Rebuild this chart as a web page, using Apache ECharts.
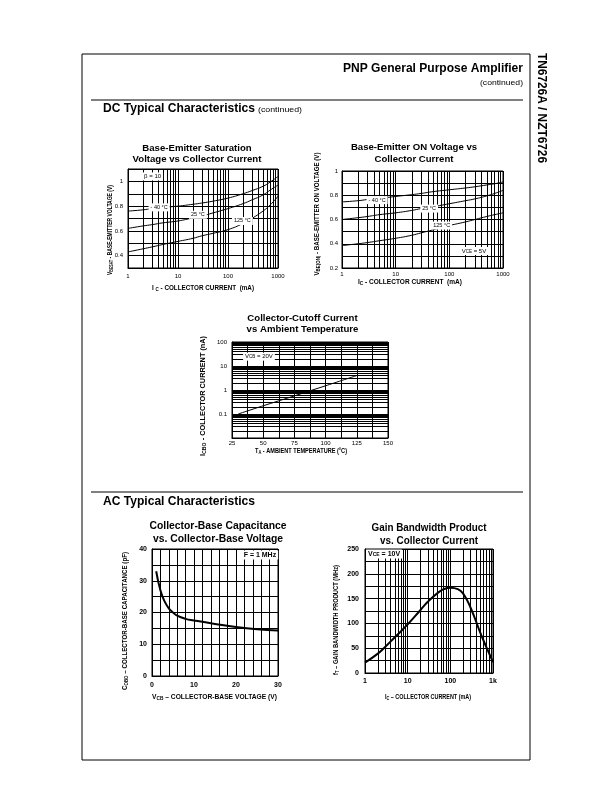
<!DOCTYPE html>
<html>
<head>
<meta charset="utf-8">
<title>TN6726A / NZT6726</title>
<script src="https://cdn.jsdelivr.net/npm/echarts@6.0.0/dist/echarts.min.js"></script>
<style>
html,body{margin:0;padding:0;background:#fff;}
#chart{width:612px;height:792px;}
</style>
</head>
<body>
<div id="chart"></div>
<script>
// ---------------- data ----------------
// Base-Emitter Saturation Voltage vs Collector Current (beta = 10)
const satIc = [1, 2, 3, 5, 10, 20, 30, 50, 100, 200, 300, 500, 700, 1000];
const satVbeM40 = [0.76, 0.77, 0.78, 0.79, 0.80, 0.815, 0.825, 0.84, 0.865, 0.90, 0.925, 0.96, 0.995, 1.04];
const satVbe25 = [0.62, 0.64, 0.65, 0.665, 0.68, 0.705, 0.72, 0.745, 0.78, 0.82, 0.85, 0.89, 0.93, 0.97];
const satVbe125 = [0.43, 0.455, 0.47, 0.49, 0.515, 0.54, 0.56, 0.58, 0.61, 0.66, 0.70, 0.76, 0.81, 0.88];
// Base-Emitter ON Voltage vs Collector Current (VCE = 5V)
const onIc = [1, 2, 3, 5, 10, 20, 30, 50, 100, 200, 300, 500, 700, 1000];
const onVbeM40 = [0.745, 0.755, 0.765, 0.775, 0.79, 0.805, 0.815, 0.83, 0.845, 0.86, 0.87, 0.885, 0.895, 0.91];
const onVbe25 = [0.60, 0.615, 0.625, 0.64, 0.655, 0.675, 0.69, 0.705, 0.73, 0.755, 0.77, 0.795, 0.815, 0.84];
const onVbe125 = [0.385, 0.40, 0.41, 0.425, 0.445, 0.47, 0.49, 0.515, 0.55, 0.58, 0.60, 0.625, 0.64, 0.655];
// Collector-Cutoff Current vs Ambient Temperature (VCB = 20V)
const cutoffTemp = [30, 50, 75, 100, 125];
const cutoffIcbo = [0.1, 0.22, 0.57, 1.5, 4.0];
// Collector-Base Capacitance vs Collector-Base Voltage (f = 1 MHz)
const capVcb = [1, 2, 3, 4, 5, 6, 8, 10, 15, 20, 25, 30];
const capCobo = [33, 27, 23.5, 21.3, 20, 19, 18, 17.5, 16.4, 15.4, 14.7, 14.3];
// Gain Bandwidth Product vs Collector Current (VCE = 10V)
const gbwIc = [1, 2, 3, 5, 10, 20, 30, 50, 70, 100, 150, 200, 300, 500, 700, 1000];
const gbwFt = [21, 39, 53, 72, 98, 127, 144, 161, 169, 172, 169, 160, 131, 82, 52, 22];
// tick labels
const decadeLabels = ['1', '10', '100', '1000'];
const gbwDecadeLabels = ['1', '10', '100', '1k'];

// ---------------- helpers ----------------
const FONT = "'Liberation Sans'";
const NARROW = "'Liberation Sans Narrow', 'Liberation Sans'";
const mctx = document.createElement('canvas').getContext('2d');

function txt(o) {
  const fam = o.family || FONT;
  const wt = o.bold === false ? 'normal' : 'bold';
  const size = o.size, sub = o.sub || size * 0.72;
  let total = 0, text = '';
  o.parts.forEach(p => {
    const isSub = typeof p !== 'string';
    const s = isSub ? p[0] : p;
    const sz = isSub ? sub : size;
    mctx.font = `${wt} ${sz}px ${fam}`;
    total += mctx.measureText(s).width;
    text += `{${isSub ? 's' : 'm'}|${s}}`;
  });
  const sx = o.width ? o.width / total : 1;
  const al = o.align || 'center';
  return {
    type: 'text', x: o.x, y: o.y, rotation: o.rot || 0, scaleX: sx, silent: true, z: 10,
    style: {
      text, fill: '#000', align: al, textAlign: al, verticalAlign: 'middle', textVerticalAlign: 'middle',
      rich: {
        m: {fontSize: size, fontWeight: wt, fontFamily: fam, lineHeight: Math.round(size * 1.25), fill: '#000', color: '#000'},
        s: {fontSize: sub, fontWeight: wt, fontFamily: fam, lineHeight: Math.round(sub), verticalAlign: 'bottom', fill: '#000', color: '#000'}
      }
    }
  };
}
const L = (x1, y1, x2, y2) => ({type: 'line', silent: true, z: 10, shape: {x1, y1, x2, y2}, style: {stroke: '#000', lineWidth: 1}});

function minorLog(lo, hi) {
  const out = [];
  for (let d = lo; d < hi * 0.999; d *= 10) for (let k = 2; k <= 9; k++) out.push(+(d * k).toPrecision(3));
  return out;
}
function decadeFmt(labels, lo) {
  return v => { const i = Math.round(Math.log10(v) - Math.log10(lo)); return labels[i] !== undefined ? labels[i] : ''; };
}

const grids = [
  {left: 128, top: 169, width: 150, height: 99},
  {left: 342, top: 171, width: 161, height: 97},
  {left: 232, top: 342, width: 156, height: 96},
  {left: 152, top: 549, width: 126, height: 127},
  {left: 365, top: 549, width: 128, height: 124}
].map(g => Object.assign({show: true, borderColor: '#000', borderWidth: 1, containLabel: false, outerBoundsMode: 'none'}, g));

const lblSmall = {fontSize: 6, fontFamily: FONT, color: '#000'};
const lblBold = {fontSize: 7, fontWeight: 'bold', fontFamily: NARROW, color: '#000'};
const split = {show: true, lineStyle: {color: '#000', width: 1}};

function axis(type, gi, min, max, extra, label) {
  const a = {
    type, gridIndex: gi, min, max,
    axisLine: {show: true, onZero: false, lineStyle: {color: '#000', width: 1}},
    axisTick: {show: false}, splitLine: split,
    axisLabel: Object.assign({showMinLabel: true, showMaxLabel: true}, label),
    silent: true
  };
  if (type === 'log') a.logBase = 10;
  return Object.assign(a, extra);
}
const tenthFmt = v => { const r = Math.round(v * 10); if (r % 2) return ''; return r === 10 ? '1' : (r / 10).toFixed(1); };

const xAxes = [
  axis('log', 0, 1, 1000, {}, Object.assign({margin: 5, formatter: decadeFmt(decadeLabels, 1)}, lblSmall)),
  axis('log', 1, 1, 1000, {}, Object.assign({margin: 3, formatter: decadeFmt(decadeLabels, 1)}, lblSmall)),
  axis('value', 2, 25, 150, {interval: 12.5}, Object.assign({margin: 2, formatter: v => (Math.round(v * 10) % 250 === 0 ? String(v) : '')}, lblSmall)),
  axis('value', 3, 0, 30, {interval: 2}, Object.assign({margin: 6, formatter: v => (v % 10 === 0 ? String(v) : '')}, lblBold)),
  axis('log', 4, 1, 1000, {}, Object.assign({margin: 5, formatter: decadeFmt(gbwDecadeLabels, 1)}, lblBold))
];
const yAxes = [
  axis('value', 0, 0.3, 1.1, {interval: 0.1}, Object.assign({margin: 5, formatter: tenthFmt}, lblSmall)),
  axis('value', 1, 0.2, 1.0, {interval: 0.1}, Object.assign({margin: 4, formatter: tenthFmt}, lblSmall)),
  axis('log', 2, 0.01, 100, {}, Object.assign({margin: 5, formatter: v => (v < 0.05 ? '' : (v >= 1 ? String(Math.round(v)) : String(+v.toPrecision(1))))}, lblSmall)),
  axis('value', 3, 0, 40, {interval: 5}, Object.assign({margin: 5, formatter: v => (v % 10 === 0 ? String(v) : '')}, lblBold)),
  axis('value', 4, 0, 250, {interval: 25}, Object.assign({margin: 6, formatter: v => (v % 50 === 0 ? String(v) : '')}, lblBold))
];

function gridLines(gi, key, values) {
  return {
    type: 'line', xAxisIndex: gi, yAxisIndex: gi, data: [], silent: true, animation: false, z: 1,
    markLine: {
      silent: true, animation: false, symbol: ['none', 'none'], z: 1,
      label: {show: false}, emphasis: {disabled: true},
      lineStyle: {color: '#000', width: 1, type: 'solid'},
      data: values.map(v => ({[key]: v}))
    }
  };
}
function curve(gi, xs, ys, width, smooth, marks, lblStyle) {
  const s = {
    type: 'line', xAxisIndex: gi, yAxisIndex: gi, data: xs.map((x, i) => [x, ys[i]]),
    smooth, symbol: 'none', silent: true, animation: false, z: 3,
    lineStyle: {color: '#000', width}
  };
  if (marks) {
    s.markPoint = {
      symbol: 'rect', symbolSize: 1, itemStyle: {color: 'rgba(0,0,0,0)'}, silent: true, animation: false, z: 6,
      label: Object.assign({show: true, position: 'inside', color: '#000', backgroundColor: '#fff', padding: [1, 2]}, lblStyle),
      data: marks.map(m => ({coord: m.c, label: {formatter: () => m.t}}))
    };
  }
  return s;
}
const annSmall = {fontSize: 5.5, fontFamily: FONT, rich: {
  a: {fontSize: 6, fontFamily: FONT, color: '#000'},
  s: {fontSize: 4.5, fontFamily: FONT, color: '#000', verticalAlign: 'bottom', lineHeight: 4}
}};
const annBold = {fontSize: 7, fontWeight: 'bold', fontFamily: NARROW, rich: {
  a: {fontSize: 7, fontWeight: 'bold', fontFamily: NARROW, color: '#000'},
  s: {fontSize: 5, fontWeight: 'bold', fontFamily: NARROW, color: '#000', verticalAlign: 'bottom', lineHeight: 5}
}};

const series = [
  gridLines(0, 'xAxis', minorLog(1, 1000)),
  gridLines(1, 'xAxis', minorLog(1, 1000)),
  gridLines(2, 'yAxis', minorLog(0.01, 100)),
  gridLines(4, 'xAxis', minorLog(1, 1000)),
  curve(0, satIc, satVbeM40, 1, 0.5, [
    {c: [3.1, 1.04], t: '{a|β = 10}'},
    {c: [4.2, 0.79], t: '- 40 °C'}
  ], annSmall),
  curve(0, satIc, satVbe25, 1, 0.5, [{c: [25, 0.73], t: '25 °C'}], annSmall),
  curve(0, satIc, satVbe125, 1, 0.5, [{c: [194, 0.68], t: '125 °C'}], annSmall),
  curve(1, onIc, onVbeM40, 1, 0.5, [{c: [4.5, 0.76], t: '- 40 °C'}], annSmall),
  curve(1, onIc, onVbe25, 1, 0.5, [{c: [42, 0.69], t: '25 °C'}], annSmall),
  curve(1, onIc, onVbe125, 1, 0.5, [
    {c: [72, 0.55], t: '125 °C'},
    {c: [288, 0.34], t: '{a|V}{s|CE}{a| = 5V}'}
  ], annSmall),
  curve(2, cutoffTemp, cutoffIcbo, 1, 0.3, [{c: [46.6, 24.5], t: '{a|V}{s|CB}{a| = 20V}'}], annSmall),
  curve(3, capVcb, capCobo, 2, 0.5, [{c: [25.7, 38.1], t: '{a|F = 1 MHz}'}], annBold),
  curve(4, gbwIc, gbwFt, 2, 0.5, [{c: [2.8, 240], t: '{a|V}{s|CE}{a| = 10V}'}], annBold)
];

const PI2 = Math.PI / 2;
const graphic = [
  // page frame and section rules
  L(82, 54, 530, 54), L(82, 54, 82, 760), L(530, 54, 530, 760), L(82, 760, 530, 760),
  L(91, 100, 523, 100), L(91, 492, 523, 492),
  // headers
  txt({x: 523, y: 69, align: 'right', size: 12, parts: ['PNP General Purpose Amplifier'], width: 180}),
  txt({x: 523, y: 83, align: 'right', size: 7.5, bold: false, parts: ['(continued)'], width: 43}),
  txt({x: 541, y: 53, align: 'left', size: 12.5, rot: -PI2, parts: ['TN6726A / NZT6726'], width: 110}),
  txt({x: 103, y: 109, align: 'left', size: 12, parts: ['DC Typical Characteristics'], width: 152}),
  txt({x: 258, y: 110, align: 'left', size: 7, bold: false, parts: ['(continued)'], width: 44}),
  txt({x: 103, y: 502, align: 'left', size: 12, parts: ['AC Typical Characteristics'], width: 152}),
  // chart titles
  txt({x: 197, y: 148, size: 9.6, parts: ['Base-Emitter Saturation']}),
  txt({x: 197, y: 159, size: 9.6, parts: ['Voltage vs Collector Current']}),
  txt({x: 414, y: 147, size: 9.6, parts: ['Base-Emitter ON Voltage vs']}),
  txt({x: 414, y: 159, size: 9.6, parts: ['Collector Current']}),
  txt({x: 302.5, y: 318, size: 9.6, parts: ['Collector-Cutoff Current']}),
  txt({x: 302.5, y: 329.5, size: 9.6, parts: ['vs Ambient Temperature']}),
  txt({x: 218, y: 526, size: 11.5, family: NARROW, parts: ['Collector-Base Capacitance'], width: 137}),
  txt({x: 218, y: 539, size: 11.5, family: NARROW, parts: ['vs. Collector-Base Voltage'], width: 130}),
  txt({x: 429, y: 528, size: 11.5, family: NARROW, parts: ['Gain Bandwidth Product'], width: 115}),
  txt({x: 429, y: 540.5, size: 11.5, family: NARROW, parts: ['vs. Collector Current'], width: 98}),
  // y axis names
  txt({x: 110, y: 230, rot: PI2, size: 6.5, parts: ['V', ['BESAT'], ' - BASE-EMITTER VOLTAGE (V)'], width: 90}),
  txt({x: 317, y: 214, rot: PI2, size: 6.5, parts: ['V', ['BE(ON)'], ' - BASE-EMITTER ON VOLTAGE (V)'], width: 123}),
  txt({x: 203, y: 396, rot: PI2, size: 6.5, parts: ['I', ['CBO'], ' - COLLECTOR CURRENT (nA)'], width: 120}),
  txt({x: 125, y: 621, rot: PI2, size: 7, family: NARROW, parts: ['C', ['OBO'], ' – COLLECTOR-BASE CAPACITANCE (pF)'], width: 138}),
  txt({x: 336, y: 620, rot: PI2, size: 7, family: NARROW, parts: ['f', ['T'], ' – GAIN BANDWIDTH PRODUCT (MHz)'], width: 110}),
  // x axis names
  txt({x: 203, y: 288, size: 6.5, parts: ['I ', ['C'], ' - COLLECTOR CURRENT  (mA)'], width: 102}),
  txt({x: 410, y: 282, size: 6.5, parts: ['I', ['C'], ' - COLLECTOR CURRENT  (mA)'], width: 104}),
  txt({x: 301, y: 451, size: 6.5, parts: ['T', ['A'], ' - AMBIENT TEMPERATURE (°C)'], width: 92}),
  txt({x: 214.5, y: 697, size: 7, family: NARROW, parts: ['V', ['CB'], ' – COLLECTOR-BASE VOLTAGE (V)'], width: 125}),
  txt({x: 428, y: 697, size: 7, family: NARROW, parts: ['I', ['C'], ' – COLLECTOR CURRENT (mA)'], width: 86})
];

const chart = echarts.init(document.getElementById('chart'), null, {renderer: 'canvas', width: 612, height: 792});
chart.setOption({
  animation: false,
  backgroundColor: '#fff',
  textStyle: {fontFamily: FONT},
  grid: grids,
  xAxis: xAxes,
  yAxis: yAxes,
  series,
  graphic
});
</script>
</body>
</html>
